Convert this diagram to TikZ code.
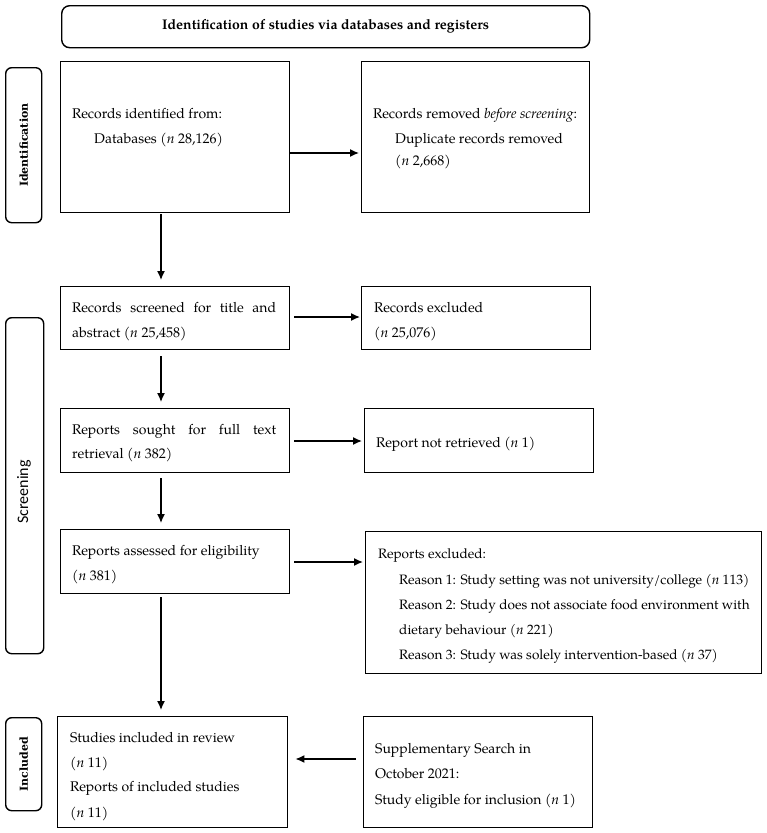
\documentclass[tikz,border=0pt]{standalone}
\usepackage{fontspec}
\setmainfont{TeX Gyre Pagella}
\newfontfamily\labserif{DejaVu Serif}
\newfontfamily\labsans{Carlito}
\usetikzlibrary{arrows.meta,calc}
\begin{document}
\begin{tikzpicture}[x=1pt,y=-1pt]
\tikzset{
  box/.style={draw, line width=1.4pt, inner sep=0pt, anchor=north west},
  rbox/.style={box, rounded corners=6pt},
  txt/.style={anchor=base west, inner sep=0pt, font=\fontsize{14}{16}\selectfont},
  txts/.style={txt, font=\fontsize{13.6}{16}\selectfont},
  arr/.style={-{Latex[length=9pt,width=8pt]}, line width=1.4pt},
  sidelab/.style={rotate=90, inner sep=0pt, font=\labserif\bfseries\fontsize{11}{12}\selectfont},
}
\useasboundingbox (0,0) rectangle (767,833);
\newcommand\boxat[6][box]{\node[#1, minimum width=#5pt, minimum height=#6pt] (#2) at (#3,#4) {};}
% header
\node[rbox, rounded corners=8pt, minimum width=528pt, minimum height=42pt] (head) at (61,5) {};
\node[inner sep=0pt, font=\fontsize{14}{16}\selectfont\bfseries] (headtxt) at (head.center) {Identification of studies via databases and registers};
% side labels
\boxat[rbox]{idlab}{5}{67}{36}{155}
\boxat[rbox]{sclab}{5}{317}{38}{336}
\boxat[rbox]{inlab}{5}{717}{36}{93}
\node[sidelab] (idtxt) at (idlab.center) {Identification};
\node[rotate=90, inner sep=0pt, font=\labsans\fontsize{16}{18}\selectfont] (sctxt) at (24,492) {Screening};
\node[sidelab] (intxt) at (inlab.center) {Included};
% boxes
\boxat{b1}{60}{61}{229}{151}
\boxat{b2}{361}{61}{228}{151}
\boxat{b3}{60}{286}{229}{63}
\boxat{b4}{361}{286}{229}{63}
\boxat{b5}{60}{408}{229}{64}
\boxat{b6}{364}{408}{229}{64}
\boxat{b7}{60}{529}{229}{64}
\boxat{b8}{365}{531}{396}{142}
\boxat{b9}{57}{716}{230}{111}
\boxat{b10}{363}{716}{229}{111}
% texts
\node[txt] (t1a) at (72,118) {Records identified from:};
\node[txt] (t1b) at (94,143) {Databases (\textit{n} 28,126)};
\node[txt] (t2a) at (373,118) {Records removed \textit{before screening}:};
\node[txt] (t2b) at (395,143) {Duplicate records removed};
\node[txt] (t2c) at (395,165) {(\textit{n} 2,668)};
\node[txt] (t3a) at (72,312) {\makebox[204pt][s]{Records screened for title and}};
\node[txt] (t3b) at (72,337) {abstract (\textit{n} 25,458)};
\node[txt] (t4a) at (374,312) {Records excluded};
\node[txt] (t4b) at (374,337) {(\textit{n} 25,076)};
\node[txt] (t5a) at (72,434) {\makebox[204pt][s]{Reports sought for full text}};
\node[txt] (t5b) at (72,458) {retrieval (\textit{n} 382)};
\node[txt] (t6a) at (376,447) {Report not retrieved (\textit{n} 1)};
\node[txt] (t7a) at (72,555) {Reports assessed for eligibility};
\node[txt] (t7b) at (72,580) {(\textit{n} 381)};
\node[txts] (t8a) at (378,558) {Reports excluded:};
\node[txts] (t8b) at (399,584) {Reason 1: Study setting was not university/college (\textit{n} 113)};
\node[txts] (t8c) at (399,609) {Reason 2: Study does not associate food environment with};
\node[txts] (t8d) at (399,634) {dietary behaviour (\textit{n} 221)};
\node[txts] (t8e) at (399,659) {Reason 3: Study was solely intervention-based (\textit{n} 37)};
\node[txt] (t9a) at (70,742) {Studies included in review};
\node[txt] (t9b) at (70,767) {(\textit{n} 11)};
\node[txt] (t9c) at (70,791) {Reports of included studies};
\node[txt] (t9d) at (70,817) {(\textit{n} 11)};
\node[txt] (t10a) at (375,753) {Supplementary Search in};
\node[txt] (t10b) at (375,778) {October 2021:};
\node[txt] (t10c) at (375,804) {Study eligible for inclusion (\textit{n} 1)};
% connector guides
\coordinate (vx) at (161,0);
\coordinate (h1) at (0,153);
\coordinate (h2) at (0,317);
\coordinate (h3) at (0,441);
\coordinate (h4) at (0,562);
\coordinate (h5) at (0,759);
% connectors
\draw[arr, shorten >=2pt] (b1.east |- h1) -- (b2.west |- h1);
\draw[arr, shorten <=4pt, shorten >=1pt] (b3.east |- h2) -- (b4.west |- h2);
\draw[arr, shorten <=4pt, shorten >=2pt] (b5.east |- h3) -- (b6.west |- h3);
\draw[arr, shorten <=4pt, shorten >=2pt] (b7.east |- h4) -- (b8.west |- h4);
\draw[arr, shorten <=7pt, shorten >=7pt] (b10.west |- h5) -- (b9.east |- h5);
\draw[arr, shorten <=1pt, shorten >=6pt] (b1.south -| vx) -- (b3.north -| vx);
\draw[arr, shorten <=6pt, shorten >=6pt] (b3.south -| vx) -- (b5.north -| vx);
\draw[arr, shorten <=5pt, shorten >=6pt] (b5.south -| vx) -- (b7.north -| vx);
\draw[arr, shorten <=3pt, shorten >=6pt] (b7.south -| vx) -- (b9.north -| vx);
\end{tikzpicture}
\end{document}
